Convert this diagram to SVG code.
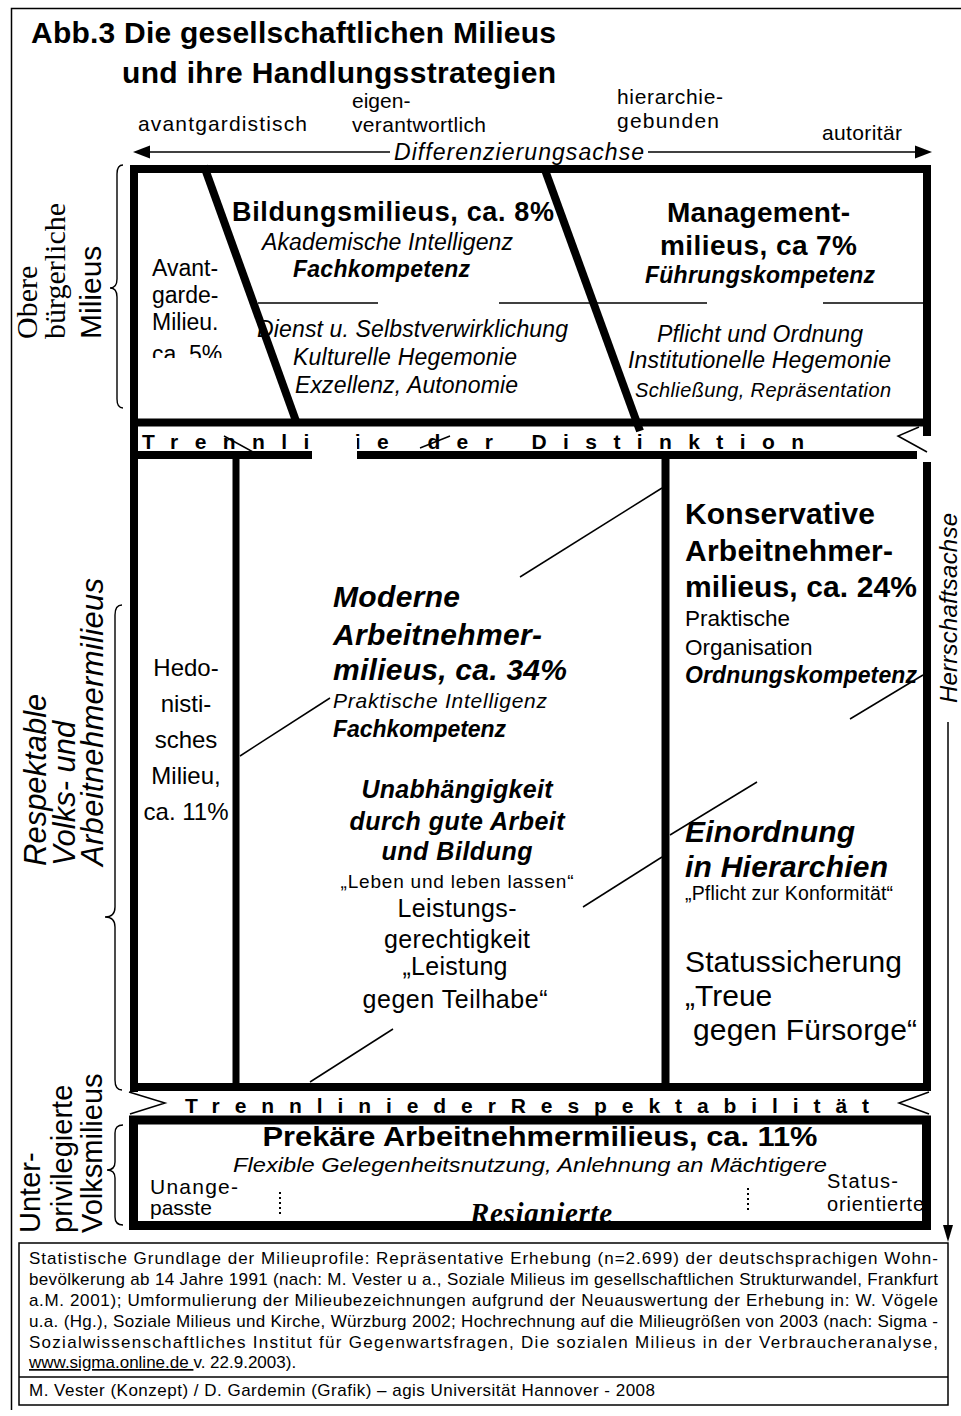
<svg xmlns="http://www.w3.org/2000/svg" width="961" height="1416" viewBox="0 0 961 1416">
<style>
.s{font-family:"Liberation Sans",Arial,sans-serif;fill:#000}
.r{font-family:"Liberation Serif","Times New Roman",serif;fill:#000}
.b{font-weight:bold}
.i{font-style:italic}
.m{text-anchor:middle}
.f{font-size:17px}
.thick{stroke:#000;stroke-width:8;fill:none}
.thin{stroke:#000;stroke-width:1.5;fill:none}
.brace{stroke:#000;stroke-width:1.4;fill:none}
</style>
<defs>
<clipPath id="avclip"><rect x="140" y="230" width="100" height="128"/></clipPath>
</defs>
<rect width="961" height="1416" fill="#fff"/>
<!-- outer frame -->
<path d="M11.5,1410 V8.5 H961" class="thin"/>

<g id="title">
<text class="s b" x="31" y="43" font-size="30" textLength="525">Abb.3 Die gesellschaftlichen Milieus</text>
<text class="s b" x="122" y="83" font-size="30" textLength="434">und ihre Handlungsstrategien</text>
</g>

<g id="axis-differenzierung">
<text class="s" x="138" y="131" font-size="21" textLength="169">avantgardistisch</text>
<text class="s" x="352" y="108" font-size="21">eigen-</text>
<text class="s" x="352" y="132" font-size="21" textLength="134">verantwortlich</text>
<text class="s" x="617" y="104" font-size="21" textLength="106">hierarchie-</text>
<text class="s" x="617" y="128" font-size="21" textLength="102">gebunden</text>
<text class="s" x="822" y="140" font-size="21" textLength="80">autoritär</text>
<line x1="145" y1="152" x2="390" y2="152" class="thin"/>
<line x1="648" y1="152" x2="920" y2="152" class="thin"/>
<polygon points="133,152 150,145.5 150,158.5"/>
<polygon points="932,152 915,145.5 915,158.5"/>
<text class="s i m" x="519" y="160" font-size="23" textLength="250">Differenzierungsachse</text>
</g>

<g id="label-obere">
<path class="brace" d="M123,165 Q117,165 117,174 L117,279 Q117,288 110,288 Q117,288 117,297 L117,399 Q117,408 123,408"/>
<g transform="translate(0,339) rotate(-90)">
<text class="r" x="0" y="37" font-size="30">Obere</text>
<text class="r" x="0" y="65" font-size="30">bürgerliche</text>
<text class="s" x="0" y="101" font-size="30">Milieus</text>
</g>
</g>

<g id="label-respektable">
<path class="brace" d="M122,605 Q115,605 115,615 L115,907 Q115,917 105,917 Q115,917 115,927 L115,1080 Q115,1090 122,1090"/>
<g transform="translate(0,866) rotate(-90)">
<text class="s i" x="0" y="46" font-size="31">Respektable</text>
<text class="s i" x="0" y="75" font-size="31">Volks- und</text>
<text class="s i" x="0" y="103" font-size="31" textLength="288">Arbeitnehmermilieus</text>
</g>
</g>

<g id="label-unter">
<path class="brace" d="M123,1125 Q115,1125 115,1133 L115,1162 Q115,1170 107,1170 Q115,1170 115,1178 L115,1217 Q115,1225 123,1225"/>
<g transform="translate(0,1233) rotate(-90)">
<text class="s" x="0" y="40" font-size="29">Unter-</text>
<text class="s" x="0" y="72" font-size="29">privilegierte</text>
<text class="s" x="0" y="102" font-size="29">Volksmilieus</text>
</g>
</g>

<g id="node-avantgarde" clip-path="url(#avclip)">
<text class="s" x="152" y="276" font-size="23">Avant-</text>
<text class="s" x="152" y="303" font-size="23">garde-</text>
<text class="s" x="152" y="330" font-size="23">Milieu.</text>
<text class="s" x="152" y="362" font-size="23">ca. 5%</text>
</g>

<g id="node-bildung">
<text class="s b" x="232" y="221" font-size="27" textLength="322">Bildungsmilieus, ca. 8%</text>
<text class="s i" x="262" y="250" font-size="23" textLength="251">Akademische Intelligenz</text>
<text class="s b i" x="293" y="277" font-size="23" textLength="177">Fachkompetenz</text>
<text class="s i" x="257" y="337" font-size="23" textLength="311">Dienst u. Selbstverwirklichung</text>
<text class="s i" x="293" y="365" font-size="23" textLength="224">Kulturelle Hegemonie</text>
<text class="s i" x="295" y="393" font-size="23" textLength="223">Exzellenz, Autonomie</text>
</g>

<g id="node-management">
<text class="s b" x="667" y="222" font-size="28" textLength="183">Management-</text>
<text class="s b" x="660" y="255" font-size="28" textLength="197">milieus, ca 7%</text>
<text class="s b i" x="645" y="283" font-size="23" textLength="230">Führungskompetenz</text>
<text class="s i" x="657" y="342" font-size="23" textLength="206">Pflicht und Ordnung</text>
<text class="s i" x="628" y="368" font-size="23" textLength="263">Institutionelle Hegemonie</text>
<text class="s i" x="635" y="397" font-size="20" textLength="256">Schließung, Repräsentation</text>
</g>

<g id="node-hedonistisch">
<text class="s m" x="186" y="676" font-size="24">Hedo-</text>
<text class="s m" x="186" y="712" font-size="24">nisti-</text>
<text class="s m" x="186" y="748" font-size="24">sches</text>
<text class="s m" x="186" y="784" font-size="24">Milieu,</text>
<text class="s m" x="186" y="820" font-size="24">ca. 11%</text>
</g>

<g id="node-modern">
<text class="s b i" x="333" y="607" font-size="30" textLength="127">Moderne</text>
<text class="s b i" x="333" y="645" font-size="30" textLength="209">Arbeitnehmer-</text>
<text class="s b i" x="333" y="680" font-size="30" textLength="234">milieus, ca. 34%</text>
<text class="s i" x="333" y="708" font-size="21" textLength="214">Praktische Intelligenz</text>
<text class="s b i" x="333" y="737" font-size="23" textLength="173">Fachkompetenz</text>
<text class="s b i m" x="457" y="798" font-size="25" textLength="191">Unabhängigkeit</text>
<text class="s b i m" x="457" y="830" font-size="25" textLength="215">durch gute Arbeit</text>
<text class="s b i m" x="457" y="860" font-size="25" textLength="151">und Bildung</text>
<text class="s m" x="457" y="888" font-size="19" textLength="233">„Leben und leben lassen“</text>
<text class="s m" x="457" y="917" font-size="25" textLength="119">Leistungs-</text>
<text class="s m" x="457" y="948" font-size="25" textLength="146">gerechtigkeit</text>
<text class="s m" x="455" y="975" font-size="25" textLength="105">„Leistung</text>
<text class="s m" x="455" y="1008" font-size="25" textLength="185">gegen Teilhabe“</text>
</g>

<g id="node-konservativ">
<text class="s b" x="685" y="524" font-size="30" textLength="190">Konservative</text>
<text class="s b" x="685" y="561" font-size="30" textLength="208">Arbeitnehmer-</text>
<text class="s b" x="685" y="597" font-size="30" textLength="232">milieus, ca. 24%</text>
<text class="s" x="685" y="626" font-size="22.5">Praktische</text>
<text class="s" x="685" y="655" font-size="22.5">Organisation</text>
<text class="s b i" x="685" y="683" font-size="23" textLength="232">Ordnungskompetenz</text>
<text class="s b i" x="685" y="842" font-size="30" textLength="170">Einordnung</text>
<text class="s b i" x="685" y="877" font-size="30" textLength="203">in Hierarchien</text>
<text class="s" x="685" y="900" font-size="19.5" textLength="208">„Pflicht zur Konformität“</text>
<text class="s" x="685" y="972" font-size="30" textLength="217">Statussicherung</text>
<text class="s" x="685" y="1006" font-size="30">„Treue</text>
<text class="s" x="693" y="1040" font-size="30" textLength="224">gegen Fürsorge“</text>
</g>

<g id="node-prekaer">
<text class="s b m" x="540" y="1146" font-size="27" textLength="555" lengthAdjust="spacingAndGlyphs">Prekäre Arbeitnehmermilieus, ca. 11%</text>
<text class="s i" x="233" y="1172" font-size="21" textLength="594" lengthAdjust="spacingAndGlyphs">Flexible Gelegenheitsnutzung, Anlehnung an Mächtigere</text>
<text class="s" x="150" y="1194" font-size="21" textLength="88">Unange-</text>
<text class="s" x="150" y="1215" font-size="21">passte</text>
<text class="s" x="827" y="1188" font-size="20" textLength="71">Status-</text>
<text class="s" x="827" y="1211" font-size="20" textLength="97">orientierte</text>
<text class="r b i" x="470" y="1223" font-size="29" textLength="142">Resignierte</text>
<line x1="280" y1="1192" x2="280" y2="1214" stroke="#000" stroke-width="2" stroke-dasharray="2,3"/>
<line x1="748" y1="1188" x2="748" y2="1210" stroke="#000" stroke-width="2" stroke-dasharray="2,3"/>
</g>

<g id="trennlinie-distinktion">
<text class="s b" x="142" y="449" font-size="21" textLength="662" lengthAdjust="spacing">Trennlinie der Distinktion</text>
</g>

<g id="trennlinie-respektabilitaet">
<text class="s b" x="185" y="1113" font-size="21" textLength="684" lengthAdjust="spacing">TrennliniederRespektabilität</text>
</g>

<g id="connectors">
<!-- upper box -->
<line x1="130" y1="169" x2="931" y2="169" class="thick"/>
<line x1="927" y1="165" x2="927" y2="436" class="thick"/>
<line x1="130" y1="422.5" x2="931" y2="422.5" class="thick"/>
<line x1="134" y1="165" x2="134" y2="1092" class="thick"/>
<!-- upper dividers -->
<line x1="258" y1="303" x2="378" y2="303" class="thin"/>
<line x1="499" y1="303" x2="707" y2="303" class="thin"/>
<line x1="823" y1="303" x2="925" y2="303" class="thin"/>
<line x1="204" y1="166" x2="296" y2="421" class="thick"/>
<line x1="545" y1="170" x2="640" y2="431" class="thick"/>
<!-- distinktion marks -->
<polyline points="919,427 898,436 927,452" class="thin"/>
<line x1="224" y1="436" x2="262" y2="457" class="thin"/>
<line x1="420" y1="448" x2="450" y2="436" class="thin"/>
<!-- lower box -->
<line x1="130" y1="455" x2="917" y2="455" class="thick"/>
<rect x="312" y="437" width="45" height="25" fill="#fff"/>
<line x1="927" y1="462" x2="927" y2="1091" class="thick"/>
<line x1="130" y1="1087" x2="931" y2="1087" class="thick"/>
<line x1="236" y1="459" x2="236" y2="1087" stroke="#000" stroke-width="7"/>
<line x1="665.5" y1="459" x2="665.5" y2="1087" class="thick"/>
<!-- diagonal thin lines -->
<line x1="520" y1="577" x2="662" y2="488" class="thin"/>
<line x1="240" y1="756" x2="330" y2="698" class="thin"/>
<line x1="583" y1="907" x2="662" y2="857" class="thin"/>
<line x1="310" y1="1082" x2="393" y2="1029" class="thin"/>
<line x1="850" y1="719" x2="923" y2="675" class="thin"/>
<line x1="670" y1="835" x2="757" y2="782" class="thin"/>
<!-- respektabilitaet marks -->
<polyline points="129,1092 165,1103 130,1114" class="thin"/>
<polyline points="929,1092 899,1103 929,1114" class="thin"/>
<!-- prekaer box -->
<rect x="133.5" y="1120" width="793" height="105.5" stroke="#000" stroke-width="9" fill="none"/>
</g>

<g id="axis-herrschaft">
<text class="s i" transform="translate(957,703) rotate(-90)" font-size="24" textLength="190">Herrschaftsachse</text>
<line x1="948" y1="722" x2="948" y2="1228" class="thin"/>
<polygon points="943,1225 953,1225 948,1242"/>
</g>

<g id="footer">
<rect x="19" y="1243" width="929" height="162" class="thin"/>
<line x1="19" y1="1377" x2="948" y2="1377" class="thin"/>
<text class="s f" x="29" y="1264" textLength="909" lengthAdjust="spacing">Statistische Grundlage der Milieuprofile: Repräsentative Erhebung (n=2.699) der deutschsprachigen Wohn-</text>
<text class="s f" x="29" y="1285" textLength="909" lengthAdjust="spacing">bevölkerung ab 14 Jahre 1991 (nach: M. Vester u a., Soziale Milieus im gesellschaftlichen Strukturwandel, Frankfurt</text>
<text class="s f" x="29" y="1306" textLength="909" lengthAdjust="spacing">a.M. 2001); Umformulierung der Milieubezeichnungen aufgrund der Neuauswertung der Erhebung in: W. Vögele</text>
<text class="s f" x="29" y="1327" textLength="909" lengthAdjust="spacing">u.a. (Hg.), Soziale Milieus und Kirche, Würzburg 2002; Hochrechnung auf die Milieugrößen von 2003 (nach: Sigma -</text>
<text class="s f" x="29" y="1348" textLength="909" lengthAdjust="spacing">Sozialwissenschaftliches Institut für Gegenwartsfragen, Die sozialen Milieus in der Verbraucheranalyse,</text>
<text class="s f" x="29" y="1368"><tspan text-decoration="underline">www.sigma.online.de </tspan>v. 22.9.2003).</text>
<text class="s f" x="29" y="1396" textLength="626" lengthAdjust="spacing">M. Vester (Konzept) / D. Gardemin (Grafik) – agis  Universität Hannover - 2008</text>
</g>
</svg>
